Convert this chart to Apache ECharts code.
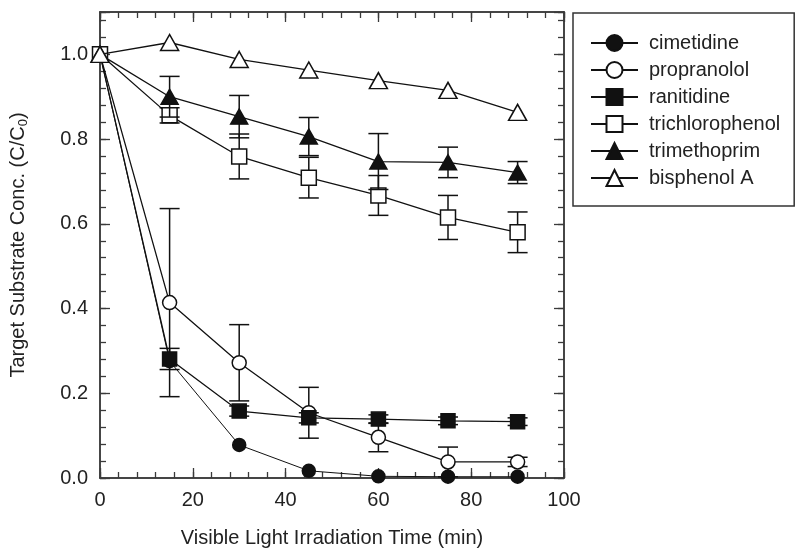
<!DOCTYPE html>
<html><head><meta charset="utf-8">
<script src="https://cdn.jsdelivr.net/npm/echarts@6/dist/echarts.min.js"></script>
<style>html,body{margin:0;padding:0;background:#fff}#c{width:795px;height:555px}</style>
</head><body><div id="c"></div>
<script>
// ---- data ----
const times = [0, 15, 30, 45, 60, 75, 90];
const cimetidine      = [1.0, 0.276, 0.078, 0.017, 0.004, 0.003, 0.003];
const propranolol     = [1.0, 0.414, 0.272, 0.154, 0.096, 0.038, 0.038];
const ranitidine      = [1.0, 0.281, 0.158, 0.142, 0.139, 0.135, 0.133];
const trichlorophenol = [1.0, 0.856, 0.759, 0.709, 0.667, 0.615, 0.580];
const trimethoprim    = [1.0, 0.900, 0.853, 0.806, 0.747, 0.745, 0.721];
const bisphenolA      = [1.0, 1.028, 0.988, 0.963, 0.938, 0.915, 0.863];

const cimetidineErr      = [0, 0, 0, 0, 0, 0, 0];
const propranololErr     = [0, 0.222, 0.090, 0.060, 0.034, 0.035, 0.011];
const ranitidineErr      = [0, 0.025, 0.012, 0.012, 0.010, 0.009, 0.009];
const trichlorophenolErr = [0, 0.018, 0.053, 0.048, 0.047, 0.052, 0.048];
const trimethoprimErr    = [0, 0.048, 0.050, 0.045, 0.066, 0.036, 0.026];
const bisphenolAErr      = [0, 0, 0, 0, 0, 0, 0];

const seriesNames = ['cimetidine', 'propranolol', 'ranitidine', 'trichlorophenol', 'trimethoprim', 'bisphenol A'];
const xTickLabels = ['0', '20', '40', '60', '80', '100'];
const yTickLabels = ['0.0', '0.2', '0.4', '0.6', '0.8', '1.0'];

// ---- styles ----
const INK = '#111';
const AX = '#3a3a3a';
const FONT = 'Liberation Sans, Arial, sans-serif';
const valuesList = [cimetidine, propranolol, ranitidine, trichlorophenol, trimethoprim, bisphenolA];
const errList = [cimetidineErr, propranololErr, ranitidineErr, trichlorophenolErr, trimethoprimErr, bisphenolAErr];
const symbolDefs = [
  {symbol: 'circle', size: 13, fill: INK},
  {symbol: 'circle', size: 14, fill: '#fff'},
  {symbol: 'rect', size: 14, fill: INK},
  {symbol: 'rect', size: 15, fill: '#fff'},
  {symbol: 'triangle', size: [17, 15], fill: INK},
  {symbol: 'triangle', size: [18, 16], fill: '#fff'}
];

function renderErr(params, api) {
  const x = api.value(0), y = api.value(1), e = api.value(2);
  const top = api.coord([x, y + e]);
  const bot = api.coord([x, y - e]);
  const hw = 10;
  const style = {stroke: INK, lineWidth: 1.5};
  return {type: 'group', children: [
    {type: 'line', shape: {x1: top[0], y1: top[1], x2: bot[0], y2: bot[1]}, style: style},
    {type: 'line', shape: {x1: top[0] - hw, y1: top[1], x2: top[0] + hw, y2: top[1]}, style: style},
    {type: 'line', shape: {x1: bot[0] - hw, y1: bot[1], x2: bot[0] + hw, y2: bot[1]}, style: style}
  ]};
}

const series = [];
seriesNames.forEach((name, i) => {
  const errData = [];
  times.forEach((t, j) => { if (errList[i][j] > 0) errData.push([t, valuesList[i][j], errList[i][j]]); });
  if (errData.length) {
    series.push({
      type: 'custom', name: name + ' err', renderItem: renderErr, data: errData,
      xAxisIndex: 0, yAxisIndex: 0, z: 2 + 2 * i, silent: true, clip: false
    });
  }
  const d = symbolDefs[i];
  series.push({
    type: 'line', name: name,
    data: times.map((t, j) => [t, valuesList[i][j]]),
    xAxisIndex: 0, yAxisIndex: 0,
    symbol: d.symbol, symbolSize: d.size, showAllSymbol: true,
    lineStyle: {color: INK, width: i === 0 ? 1 : 1.3},
    itemStyle: {color: d.fill, borderColor: INK, borderWidth: 1.5},
    z: 3 + 2 * i, silent: true, animation: false
  });
});

function makeAxis(min, max, interval, len, position, extra) {
  return Object.assign({
    type: 'value', min: min, max: max, interval: interval, position: position,
    axisLine: {show: true, onZero: false, lineStyle: {color: AX, width: 1.5}},
    axisTick: {show: true, inside: true, length: len, lineStyle: {color: AX, width: 1.3}},
    minorTick: {show: false},
    axisLabel: {show: false},
    splitLine: {show: false}
  }, extra || {});
}

const option = {
  animation: false,
  backgroundColor: '#fff',
  grid: {left: 100, right: 231, top: 12, bottom: 77, containLabel: false},
  xAxis: [
    makeAxis(0, 100, 20, 10, 'bottom', {
      axisLabel: {show: true, margin: 12, fontSize: 20, color: '#222', fontFamily: FONT,
        formatter: v => { const k = Math.round(v / 20); return Math.abs(v - k * 20) < 1e-6 ? xTickLabels[k] : ''; }},
      name: 'Visible Light Irradiation Time (min)', nameLocation: 'middle', nameGap: 50,
      nameTextStyle: {fontSize: 20, color: '#222', fontFamily: FONT}
    }),
    makeAxis(0, 100, 4, 6, 'bottom'),
    makeAxis(0, 100, 20, 10, 'top'),
    makeAxis(0, 100, 4, 6, 'top')
  ],
  yAxis: [
    makeAxis(0, 1.1, 0.2, 10, 'left', {
      axisLabel: {show: true, margin: 12, fontSize: 20, color: '#222', fontFamily: FONT,
        formatter: v => { const k = Math.round(v / 0.2); return (Math.abs(v - k * 0.2) < 1e-6 && k < yTickLabels.length) ? yTickLabels[k] : ''; }},
      name: '{a|Target Substrate Conc. (C/C}{b|0}{a|)}', nameLocation: 'middle', nameGap: 70,
      nameTextStyle: {color: '#222', fontFamily: FONT, rich: {
        a: {fontSize: 20, color: '#222', fontFamily: FONT, lineHeight: 24},
        b: {fontSize: 13, color: '#222', fontFamily: FONT, lineHeight: 13, verticalAlign: 'bottom'}
      }}
    }),
    makeAxis(0, 1.1, 0.04, 6, 'left'),
    makeAxis(0, 1.1, 0.2, 10, 'right'),
    makeAxis(0, 1.1, 0.04, 6, 'right')
  ],
  legend: {
    data: seriesNames,
    orient: 'vertical',
    left: 573, top: 13,
    padding: [20, 14, 18, 17],
    itemWidth: 47, itemHeight: 20, itemGap: 7,
    borderColor: '#333', borderWidth: 1.5, backgroundColor: '#fff',
    textStyle: {fontSize: 20, color: '#222', fontFamily: FONT, lineHeight: 20, padding: [0, 0, 0, 6]},
    selectedMode: false
  },
  series: series
};

const chart = echarts.init(document.getElementById('c'), null, {renderer: 'canvas'});
chart.setOption(option);
</script>
</body></html>
